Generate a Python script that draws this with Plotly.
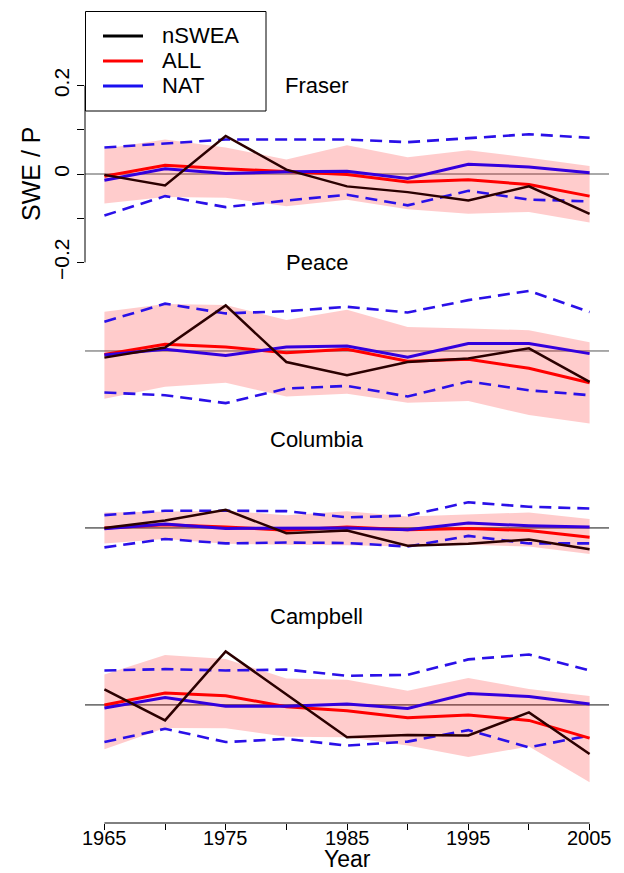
import plotly.graph_objects as go

years = [1965, 1970, 1975, 1980, 1985, 1990, 1995, 2000, 2005]
basins = ["Fraser", "Peace", "Columbia", "Campbell"]

# nSWEA (observed), ALL mean, NAT mean, NAT range (dashed), ALL range (band)
fraser_nswea = [-0.002, -0.026, 0.086, 0.010, -0.028, -0.041, -0.060, -0.028, -0.090]
fraser_all = [-0.005, 0.020, 0.012, 0.005, -0.001, -0.018, -0.013, -0.024, -0.050]
fraser_nat = [-0.014, 0.012, 0.001, 0.005, 0.006, -0.010, 0.022, 0.016, 0.003]
fraser_nat_hi = [0.060, 0.069, 0.078, 0.078, 0.078, 0.072, 0.081, 0.090, 0.082]
fraser_nat_lo = [-0.094, -0.050, -0.075, -0.060, -0.047, -0.071, -0.038, -0.058, -0.062]
fraser_all_hi = [0.057, 0.078, 0.060, 0.033, 0.065, 0.038, 0.054, 0.037, 0.018]
fraser_all_lo = [-0.067, -0.052, -0.054, -0.073, -0.058, -0.080, -0.090, -0.086, -0.110]

peace_nswea = [-0.015, 0.008, 0.103, -0.025, -0.055, -0.025, -0.017, 0.006, -0.070]
peace_all = [-0.008, 0.015, 0.009, -0.004, 0.004, -0.023, -0.019, -0.039, -0.072]
peace_nat = [-0.009, 0.004, -0.010, 0.009, 0.011, -0.014, 0.017, 0.017, -0.006]
peace_nat_hi = [0.066, 0.107, 0.085, 0.090, 0.100, 0.087, 0.115, 0.136, 0.088]
peace_nat_lo = [-0.094, -0.100, -0.118, -0.085, -0.079, -0.103, -0.069, -0.089, -0.100]
peace_all_hi = [0.089, 0.106, 0.104, 0.070, 0.093, 0.054, 0.051, 0.047, 0.020]
peace_all_lo = [-0.108, -0.081, -0.072, -0.103, -0.097, -0.117, -0.113, -0.145, -0.164]

columbia_nswea = [0.000, 0.017, 0.041, -0.012, -0.006, -0.040, -0.036, -0.026, -0.048]
columbia_all = [0.000, 0.007, 0.002, -0.005, 0.002, -0.004, -0.001, -0.006, -0.021]
columbia_nat = [-0.002, 0.009, -0.001, 0.000, 0.000, -0.004, 0.011, 0.005, 0.002]
columbia_nat_hi = [0.029, 0.039, 0.039, 0.038, 0.024, 0.028, 0.058, 0.048, 0.044]
columbia_nat_lo = [-0.044, -0.025, -0.035, -0.033, -0.034, -0.042, -0.018, -0.035, -0.035]
columbia_all_hi = [0.035, 0.037, 0.039, 0.029, 0.038, 0.026, 0.030, 0.035, 0.020]
columbia_all_lo = [-0.035, -0.025, -0.036, -0.038, -0.039, -0.042, -0.038, -0.042, -0.059]

campbell_nswea = [0.035, -0.035, 0.121, 0.024, -0.073, -0.068, -0.069, -0.017, -0.111]
campbell_all = [0.000, 0.027, 0.021, -0.004, -0.013, -0.029, -0.023, -0.035, -0.075]
campbell_nat = [-0.007, 0.017, -0.003, -0.003, 0.002, -0.008, 0.026, 0.019, 0.002]
campbell_nat_hi = [0.078, 0.081, 0.078, 0.080, 0.066, 0.068, 0.103, 0.114, 0.078]
campbell_nat_lo = [-0.084, -0.054, -0.084, -0.077, -0.092, -0.083, -0.057, -0.096, -0.069]
campbell_all_hi = [0.069, 0.113, 0.104, 0.060, 0.057, 0.032, 0.061, 0.036, 0.020]
campbell_all_lo = [-0.100, -0.052, -0.053, -0.072, -0.073, -0.092, -0.118, -0.094, -0.175]

series = {
    "Fraser": (fraser_nswea, fraser_all, fraser_nat, fraser_nat_hi, fraser_nat_lo, fraser_all_hi, fraser_all_lo),
    "Peace": (peace_nswea, peace_all, peace_nat, peace_nat_hi, peace_nat_lo, peace_all_hi, peace_all_lo),
    "Columbia": (columbia_nswea, columbia_all, columbia_nat, columbia_nat_hi, columbia_nat_lo, columbia_all_hi, columbia_all_lo),
    "Campbell": (campbell_nswea, campbell_all, campbell_nat, campbell_nat_hi, campbell_nat_lo, campbell_all_hi, campbell_all_lo),
}

y_ticks = [-0.2, -0.1, 0, 0.1, 0.2]
y_ticktext = ["\u22120.2", "", "0", "", "0.2"]
x_ticks = [1965, 1970, 1975, 1980, 1985, 1990, 1995, 2000, 2005]
x_ticktext = ["1965", "", "1975", "", "1985", "", "1995", "", "2005"]

legend_names = ["nSWEA", "ALL", "NAT"]

C_OBS = "#2b0000"
C_ALL = "#ff0000"
C_NAT = "#3300dd"
C_NATR = "#2a10e8"
BAND = "rgba(255,0,0,0.2)"
FONT = "Liberation Sans, Arial, Helvetica, sans-serif"

# plot area: x 85..609 px, y 11..823 px
TOP_PX, BOT_PX, LEFT_PX, RIGHT_PX = 11, 823, 85, 609
W, H = float(RIGHT_PX - LEFT_PX), float(BOT_PX - TOP_PX)
PX_PER_UNIT = 442.0
ZERO0 = 174.0
BASE_LO, BASE_HI = -(BOT_PX - ZERO0) / PX_PER_UNIT, (ZERO0 - TOP_PX) / PX_PER_UNIT
STEP = 0.4004


def px(x):
    return (x - LEFT_PX) / W


def py(y):
    return (BOT_PX - y) / H


fig = go.Figure()
shapes = []
annotations = []

for i, name in enumerate(basins):
    obs, allm, nat, nhi, nlo, ahi, alo = series[name]
    yref = "y" if i == 0 else f"y{i+1}"
    fig.add_trace(go.Scatter(x=years + years[::-1], y=ahi + alo[::-1], fill="toself",
                             fillcolor=BAND, line=dict(width=0), mode="lines",
                             yaxis=yref, showlegend=False, hoverinfo="skip"))
    for arr in (nhi, nlo):
        fig.add_trace(go.Scatter(x=years, y=arr, mode="lines", yaxis=yref, showlegend=False,
                                 line=dict(color=C_NATR, width=2.6, dash="12px,7px")))
    fig.add_trace(go.Scatter(x=years, y=allm, mode="lines", yaxis=yref, showlegend=False,
                             line=dict(color=C_ALL, width=3)))
    fig.add_trace(go.Scatter(x=years, y=nat, mode="lines", yaxis=yref, showlegend=False,
                             line=dict(color=C_NAT, width=3)))
    fig.add_trace(go.Scatter(x=years, y=obs, mode="lines", yaxis=yref, showlegend=False,
                             line=dict(color=C_OBS, width=2.5)))
    shapes.append(dict(type="line", xref="paper", x0=0, x1=1, yref=yref, y0=0, y1=0,
                       line=dict(color="#555555" if i < 2 else "#111111", width=1), layer="below"))
    annotations.append(dict(text=name, x=1982.5, xref="x", y=0.2, yref=yref, showarrow=False,
                            font=dict(size=22, color="black", family=FONT),
                            xanchor="center", yanchor="middle"))

# axis lines (R style, only over labelled extent)
shapes.append(dict(type="line", xref="paper", x0=0, x1=0, yref="y", y0=y_ticks[0], y1=y_ticks[-1],
                   line=dict(color="black", width=1)))
shapes.append(dict(type="line", xref="x", x0=x_ticks[0], x1=x_ticks[-1], yref="paper", y0=0, y1=0,
                   line=dict(color="black", width=1)))

# x tick labels (R places them closer to the axis than plotly does)
for xv, lab in zip(x_ticks, x_ticktext):
    if lab:
        annotations.append(dict(text=lab, x=xv, xref="x", y=py(838), yref="paper", showarrow=False,
                                xanchor="center", yanchor="middle", borderpad=0,
                                font=dict(size=20, color="black", family=FONT)))

# legend box
shapes.append(dict(type="rect", xref="paper", yref="paper", x0=px(85.5), x1=px(266), y0=py(111), y1=py(11.5),
                   line=dict(color="black", width=1), fillcolor="white", layer="above"))
leg_colors = ["#000000", "#ff0000", "#1a10f0"]
for k, (lab, col) in enumerate(zip(legend_names, leg_colors)):
    yy = py(36 + 25 * k)
    shapes.append(dict(type="line", xref="paper", yref="paper", x0=px(103), x1=px(143), y0=yy, y1=yy,
                       line=dict(color=col, width=3)))
    annotations.append(dict(text=lab, xref="paper", yref="paper", x=px(160), y=yy, showarrow=False,
                            xanchor="left", yanchor="middle", font=dict(size=22, color="black", family=FONT)))

annotations.append(dict(text="SWE / P", xref="paper", x=px(31), y=0, yref="y", textangle=-90,
                        showarrow=False, xanchor="center", yanchor="middle",
                        font=dict(size=25, color="black", family=FONT)))
annotations.append(dict(text="Year", xref="paper", x=0.5, yref="paper", y=py(873),
                        showarrow=False, xanchor="center", yanchor="bottom", borderpad=0,
                        font=dict(size=23, color="black", family=FONT)))

layout = dict(
    width=624, height=873,
    margin=dict(l=LEFT_PX, r=624 - RIGHT_PX, t=TOP_PX, b=873 - BOT_PX),
    paper_bgcolor="white", plot_bgcolor="rgba(0,0,0,0)",
    font=dict(family=FONT, color="black"),
    shapes=shapes, annotations=annotations,
    xaxis=dict(range=[1963.4, 2006.6], tickvals=x_ticks, ticks="outside", showticklabels=False,
               ticklen=6, tickwidth=1, tickcolor="black", showgrid=False, zeroline=False,
               showline=False, automargin=False),
    yaxis=dict(range=[BASE_LO, BASE_HI], tickvals=y_ticks, ticktext=y_ticktext, ticks="outside",
               ticklen=7, tickwidth=1, tickcolor="black", tickangle=-90, showgrid=False,
               zeroline=False, showline=False, tickfont=dict(size=21, family=FONT), automargin=False),
    showlegend=False,
)
for i in range(1, 4):
    layout[f"yaxis{i+1}"] = dict(range=[BASE_LO + STEP * i, BASE_HI + STEP * i], overlaying="y",
                                 visible=False, showgrid=False, zeroline=False)
fig.update_layout(**layout)
fig.write_html("out.html")
